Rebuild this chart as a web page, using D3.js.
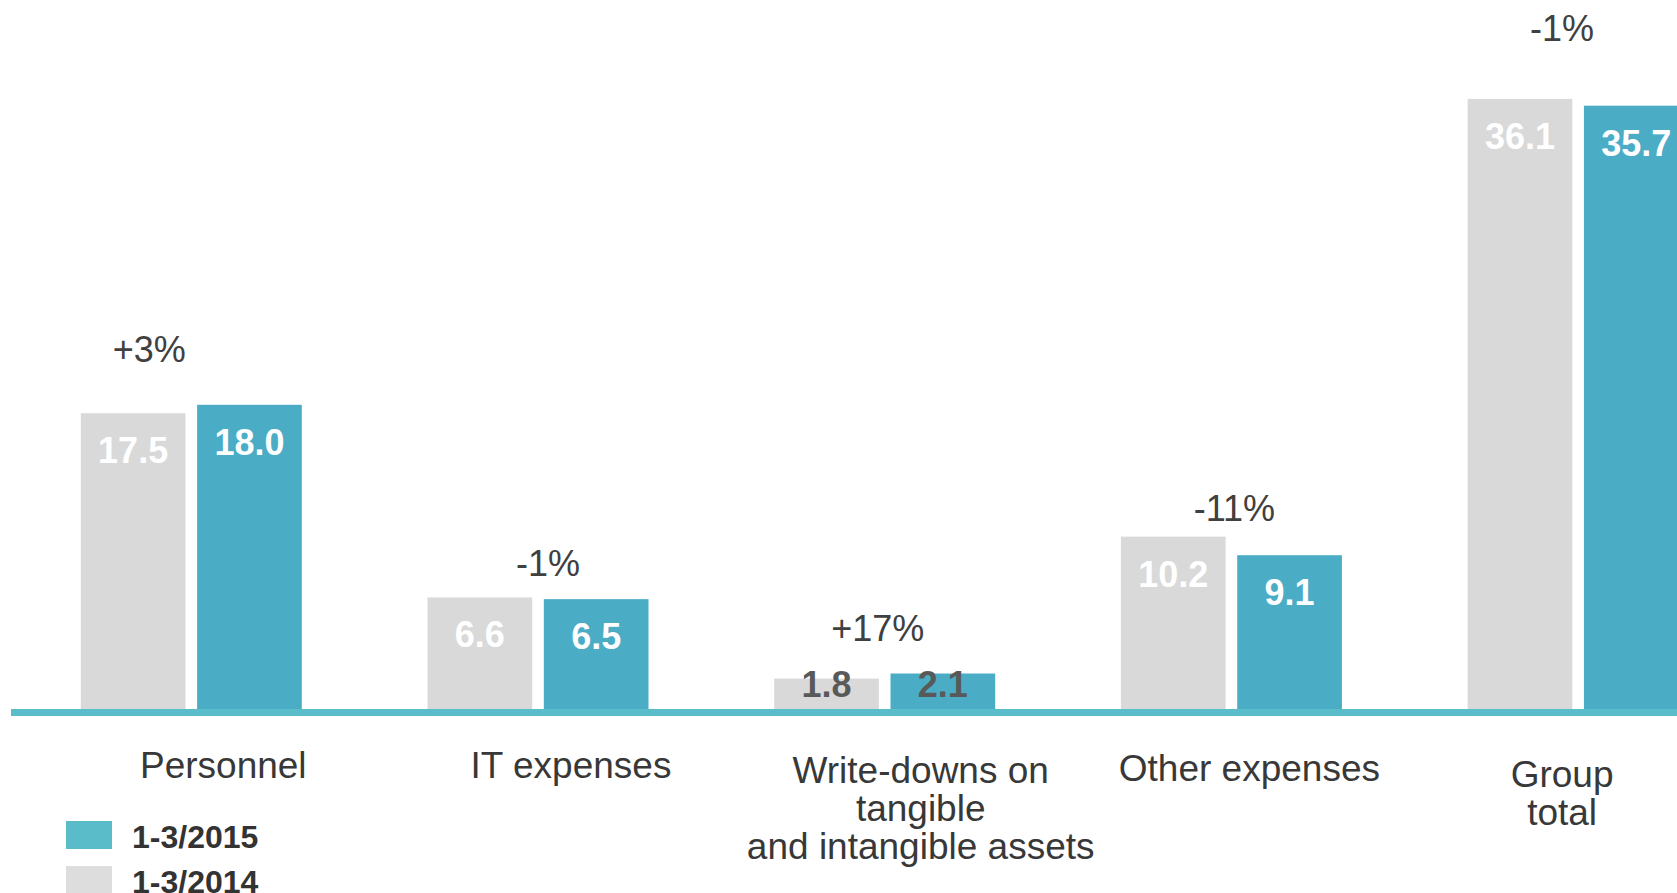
<!DOCTYPE html>
<html>
<head>
<meta charset="utf-8">
<script src="https://cdn.jsdelivr.net/npm/d3@7"></script>
<style>
  html, body { margin: 0; padding: 0; background: #ffffff; }
  svg { display: block; font-family: "Liberation Sans", Arial, Helvetica, sans-serif; }
</style>
</head>
<body>
<svg id="chart" width="1677" height="893"></svg>
<script>
// Operating expenses by category, EUR m
const categories = [
  "Personnel",
  "IT expenses",
  "Write-downs on\ntangible\nand intangible assets",
  "Other expenses",
  "Group\ntotal"
];
const seriesNames = ["1-3/2014", "1-3/2015"];
const values2014 = [17.5, 6.6, 1.8, 10.2, 36.1];
const values2015 = [18.0, 6.5, 2.1, 9.1, 35.7];
const changeLabels = ["+3%", "-1%", "+17%", "-11%", "-1%"];
const legendOrder = ["1-3/2015", "1-3/2014"];

// Layout
const W = 1677, H = 893;
const baseY = 709;
const groupStep = 346.7;
const firstCenter = 191.3;
const colors = { "1-3/2014": "#d9d9d9", "1-3/2015": "#4bacc6" };
const legendColors = { "1-3/2014": "#dddddd", "1-3/2015": "#5bbcc9" };

// Hand placement of the text boxes around each group
const changeDx = [-42, 10, -7, 3, -16];
const changeLift = [43, 21, 33, 16, 58];
const catDx = [32, 33, 36, 18, -16];
const catBaseline = [778, 778, 783, 781, 787];
const catLineHeight = 38;

const svg = d3.select("#chart");

const x0 = d3.scaleBand()
  .domain(categories)
  .range([firstCenter - groupStep / 2, firstCenter + groupStep * (categories.length - 0.5)])
  .paddingInner(0).paddingOuter(0);

const x1 = d3.scaleBand()
  .domain(seriesNames)
  .range([groupStep / 2 - 110.5, groupStep / 2 + 110.5])
  .paddingInner(0.1);

const y = d3.scaleLinear().domain([0, 40]).range([baseY, baseY - 40 * 16.9]);

const rows = categories.map((c, i) => ({
  cat: c, i,
  vals: [
    { key: "1-3/2014", v: values2014[i] },
    { key: "1-3/2015", v: values2015[i] }
  ]
}));

const groups = svg.append("g").selectAll("g")
  .data(rows).join("g")
  .attr("transform", d => `translate(${x0(d.cat)},0)`);

// Bars
groups.selectAll("rect")
  .data(d => d.vals).join("rect")
  .attr("x", d => x1(d.key))
  .attr("width", x1.bandwidth())
  .attr("y", d => y(d.v))
  .attr("height", d => y(0) - y(d.v))
  .attr("fill", d => colors[d.key]);

// Value labels: inside tall bars, straddling the top of short ones
groups.selectAll("text.val")
  .data(d => d.vals).join("text")
  .attr("class", "val")
  .attr("x", d => x1(d.key) + x1.bandwidth() / 2)
  .attr("y", d => (y(0) - y(d.v)) > 60 ? y(d.v) + 50 : y(0) - 12)
  .attr("text-anchor", "middle")
  .attr("font-size", 36)
  .attr("font-weight", "bold")
  .attr("fill", d => (y(0) - y(d.v)) > 60 ? "#ffffff" : "#595959")
  .text(d => d.v.toFixed(1));

// Change labels above each pair
groups.append("text")
  .attr("x", d => x0.bandwidth() / 2 + changeDx[d.i])
  .attr("y", d => y(Math.max(values2014[d.i], values2015[d.i])) - changeLift[d.i])
  .attr("text-anchor", "middle")
  .attr("font-size", 36)
  .attr("fill", "#404040")
  .text(d => changeLabels[d.i]);

// Baseline
svg.append("rect")
  .attr("x", 11)
  .attr("y", baseY)
  .attr("width", W - 11)
  .attr("height", 7)
  .attr("fill", "#5bbcca");

// Category labels
groups.append("text")
  .attr("text-anchor", "middle")
  .attr("font-size", 37)
  .attr("fill", "#383838")
  .each(function(d) {
    const t = d3.select(this);
    d.cat.split("\n").forEach((line, k) => {
      t.append("tspan")
        .attr("x", x0.bandwidth() / 2 + catDx[d.i])
        .attr("y", catBaseline[d.i] + k * catLineHeight)
        .text(line);
    });
  });

// Legend
const legend = svg.append("g").selectAll("g")
  .data(legendOrder).join("g")
  .attr("transform", (d, i) => `translate(66,${821 + i * 45})`);
legend.append("rect")
  .attr("width", 46).attr("height", 28)
  .attr("fill", d => legendColors[d]);
legend.append("text")
  .attr("x", 66).attr("y", 26.5)
  .attr("font-size", 32)
  .attr("font-weight", "bold")
  .attr("fill", "#333333")
  .text(d => d);
</script>
</body>
</html>
